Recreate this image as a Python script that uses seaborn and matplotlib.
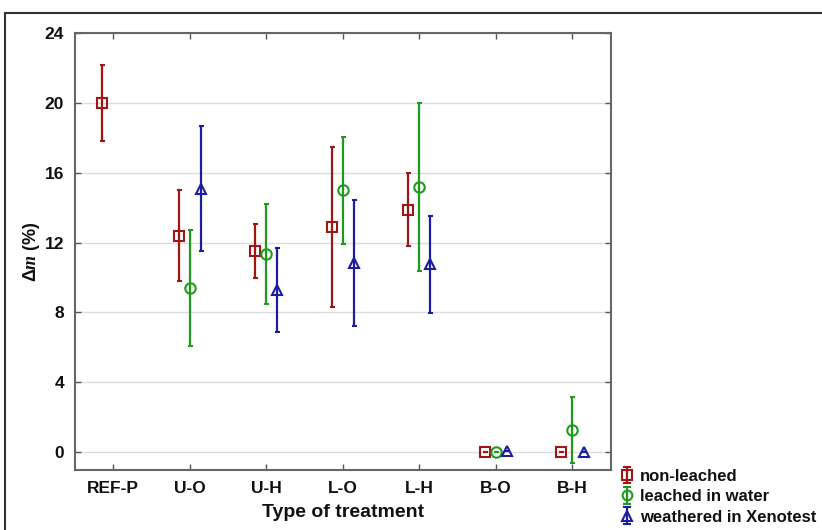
import numpy as np
import pandas as pd
import matplotlib
matplotlib.use("Agg")
import matplotlib.pyplot as plt
from matplotlib.patches import Rectangle
import seaborn as sns

categories = ["REF-P", "U-O", "U-H", "L-O", "L-H", "B-O", "B-H"]
series = ["non-leached", "leached in water", "weathered in Xenotest"]
non_leached = [20.0, 12.4, 11.5, 12.9, 13.9, 0.0, 0.0]
non_leached_err = [2.2, 2.6, 1.55, 4.6, 2.1, 0.0, 0.0]
leached_water = [np.nan, 9.4, 11.35, 15.0, 15.2, 0.0, 1.28]
leached_water_err = [np.nan, 3.35, 2.85, 3.05, 4.8, 0.0, 1.9]
xenotest = [np.nan, 15.1, 9.3, 10.85, 10.75, 0.05, 0.0]
xenotest_err = [np.nan, 3.6, 2.4, 3.6, 2.8, 0.0, 0.0]
yticks = [0, 4, 8, 12, 16, 20, 24]

colors = ["#a01515", "#1f9a1f", "#1c1ca0"]
markers = ["s", "o", "^"]
values = [non_leached, leached_water, xenotest]
errors = [non_leached_err, leached_water_err, xenotest_err]

df = pd.DataFrame({
    "treatment": categories * 3,
    "series": sum([[s] * len(categories) for s in series], []),
    "dm": sum([list(v) for v in values], []),
})

sns.set_theme(style="white")
plt.rcParams["font.family"] = ["Liberation Sans", "DejaVu Sans"]
plt.rcParams["text.color"] = "#111111"
plt.rcParams["axes.labelcolor"] = "#111111"
plt.rcParams["xtick.labelcolor"] = "#111111"
plt.rcParams["ytick.labelcolor"] = "#111111"
plt.rcParams["mathtext.fontset"] = "custom"
plt.rcParams["mathtext.it"] = "Liberation Serif:italic:bold"
plt.rcParams["mathtext.rm"] = "Liberation Sans:bold"

fig = plt.figure(figsize=(8.22, 5.30), dpi=100)
ax = fig.add_axes([75 / 822, 60 / 530, (610.7 - 75) / 822, (470 - 33.3) / 530])

dodge = 0.29
sns.pointplot(data=df, x="treatment", y="dm", hue="series", order=categories,
              hue_order=series, palette=colors, markers=markers, linestyles="none",
              dodge=dodge, errorbar=None, markersize=7.5, ax=ax, legend=False)
for ln in ax.lines:
    ln.set_markerfacecolor("none")
    ln.set_markeredgewidth(1.5)
    ln.set_zorder(4)

step = dodge / (len(series) - 1)
for j, (v, e, c, m, s) in enumerate(zip(values, errors, colors, markers, series)):
    xs = np.arange(len(categories)) - dodge / 2 + j * step
    ax.errorbar(xs, v, yerr=e, fmt="none", ecolor=c, elinewidth=1.6,
                capsize=1.8, capthick=1.5, zorder=3)
    # legend handle
    ax.errorbar([np.nan], [np.nan], yerr=[1], fmt=m, color=c, mfc="none",
                mec=c, mew=1.5, markersize=7, elinewidth=1.6, capsize=3,
                capthick=1.5, label=s)

ax.set_xlim(-0.5, 6.5)
ax.set_ylim(-1.03, 24)
ax.set_yticks(yticks)
ax.set_yticklabels([str(t) for t in yticks])
ax.grid(axis="y", color="#dcdcdc", linewidth=1.0)
ax.grid(axis="x", visible=False)
ax.set_axisbelow(True)
ax.tick_params(direction="in", length=4, width=1, color="#555555",
               top=True, right=True, bottom=True, left=True,
               labelsize=12.5, pad=8)
for lab in ax.get_xticklabels() + ax.get_yticklabels():
    lab.set_fontweight("bold")
for sp in ax.spines.values():
    sp.set_color("#666666")
    sp.set_linewidth(1.5)

ax.set_xlabel("Type of treatment", fontsize=14, fontweight="bold", labelpad=6)
ax.set_ylabel(r"$\Delta m$ (%)", fontsize=13, fontweight="bold", labelpad=2)

handles, labels = ax.get_legend_handles_labels()
fig.legend(handles, labels, loc="upper left", bbox_to_anchor=(612 / 822, 68 / 530),
           frameon=False, handlelength=1.0, handletextpad=0.3,
           labelspacing=0.33, borderaxespad=0, prop={"weight": "bold", "size": 12.0})

fig.patches.append(Rectangle((5 / 822, -0.2), 1.2, (530 - 13) / 530 + 0.2,
                             transform=fig.transFigure, fill=False,
                             edgecolor="#333333", linewidth=1.5))

fig.savefig("out.png", dpi=100)
